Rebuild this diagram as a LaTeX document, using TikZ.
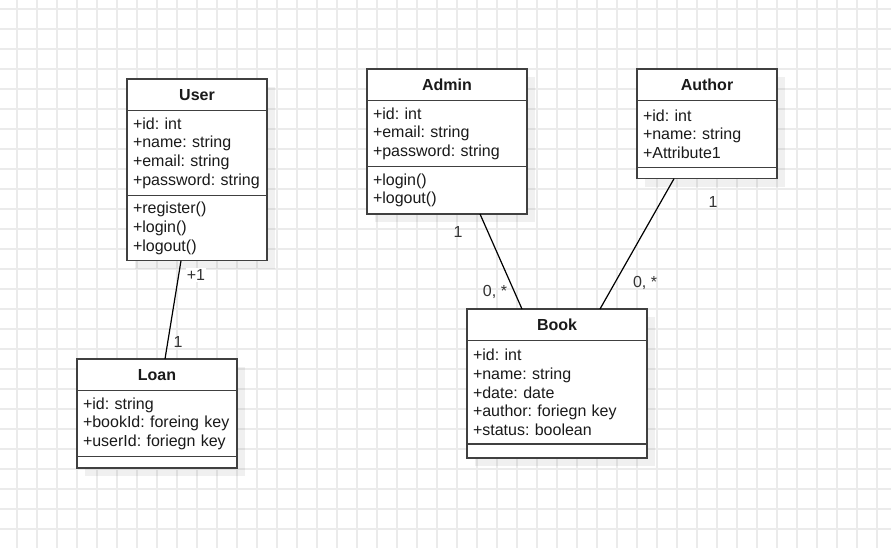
\documentclass[tikz,border=0pt]{standalone}
\usepackage{fontspec}
\setmainfont{Liberation Sans}
\usepackage{tikz}
\usetikzlibrary{positioning, shadows, calc}
\definecolor{umlLine}{HTML}{404040}
\definecolor{umlGrid}{HTML}{EBEBEB}
\definecolor{umlText}{HTML}{1A1A1A}
\definecolor{umlLabel}{HTML}{333333}
\frenchspacing

\begin{document}
\begin{tikzpicture}[
  x=1pt, y=-1pt,
  font=\fontsize{16}{18.7}\selectfont,
  umlshadow/.style={drop shadow={shadow xshift=8pt, shadow yshift=-8pt,
                    fill=black, opacity=0.06}},
  classhead/.style={draw=umlLine, fill=white, line width=1.5pt, umlshadow,
                    minimum width=#1, minimum height=31.7pt, inner sep=0pt,
                    outer sep=0pt, text=umlText, font=\fontsize{16}{18.7}\selectfont\bfseries},
  classpart/.style 2 args={draw=umlLine, fill=white, line width=1.5pt, umlshadow,
                    text width=#1, minimum height=#2, inner xsep=6pt, inner ysep=0pt,
                    outer sep=0pt, align=left, text=umlText},
  assoc/.style={draw=black, line width=1.2pt},
  lbl/.style={text=umlLabel, inner sep=1pt},
]
\useasboundingbox (0,0) rectangle (891,548);
\fill[white] (0,0) rectangle (891,548);

% grid
\foreach \gx in {17,37,...,877}
  \draw[umlGrid, line width=1.3pt] (\gx,0) -- (\gx,548);
\foreach \gy in {9,29,...,529}
  \draw[umlGrid, line width=1.3pt] (0,\gy) -- (891,\gy);

% User
\node[classhead=140pt, anchor=north west] (userhead) at (127,79) {User};
\node[classpart={128pt}{85pt}, below=0pt of userhead] (userattr)
  {+id: int\\+name: string\\+email: string\\+password: string};
\node[classpart={128pt}{65pt}, below=0pt of userattr] (userops)
  {+register()\\+login()\\+logout()};

% Admin
\node[classhead=160pt, anchor=north west] (adminhead) at (367,69) {Admin};
\node[classpart={148pt}{66pt}, below=0pt of adminhead] (adminattr)
  {+id: int\\+email: string\\+password: string};
\node[classpart={148pt}{47.3pt}, below=0pt of adminattr] (adminops)
  {+login()\\+logout()};

% Author
\node[classhead=140pt, anchor=north west] (authorhead) at (637,69) {Author};
\node[classpart={128pt}{66.7pt}, below=0pt of authorhead] (authorattr)
  {+id: int\\+name: string\\+Attribute1};
\node[classpart={128pt}{11.3pt}, below=0pt of authorattr] (authorops) {};

% Book
\node[classhead=180pt, anchor=north west] (bookhead) at (467,309) {Book};
\node[classpart={168pt}{103.3pt}, below=0pt of bookhead] (bookattr)
  {+id: int\\+name: string\\+date: date\\+author: foriegn key\\+status: boolean};
\node[classpart={168pt}{14pt}, below=0pt of bookattr] (bookops) {};

% Loan
\node[classhead=160pt, anchor=north west] (loanhead) at (77,359) {Loan};
\node[classpart={148pt}{66pt}, below=0pt of loanhead] (loanattr)
  {+id: string\\+bookId: foreing key\\+userId: foriegn key};
\node[classpart={148pt}{11.3pt}, below=0pt of loanattr] (loanops) {};

% associations
\draw[assoc] ([xshift=-16pt]userops.south) -- ([xshift=8pt]loanhead.north);
\draw[assoc] ([xshift=33pt]adminops.south) -- ([xshift=-35pt]bookhead.north);
\draw[assoc] ([xshift=-33pt]authorops.south) -- ([xshift=43pt]bookhead.north);

% multiplicities
\node[lbl, fill=white] (userlbl) at (196,275) {+1};
\node[lbl] (loanlbl) at (178,342) {1};
\node[lbl] (adminlbl) at (458,232) {1};
\node[lbl] (bookalbl) at (495,292) {0, *};
\node[lbl] (authorlbl) at (713,202) {1};
\node[lbl] (bookblbl) at (645,283) {0, *};
\end{tikzpicture}
\end{document}
